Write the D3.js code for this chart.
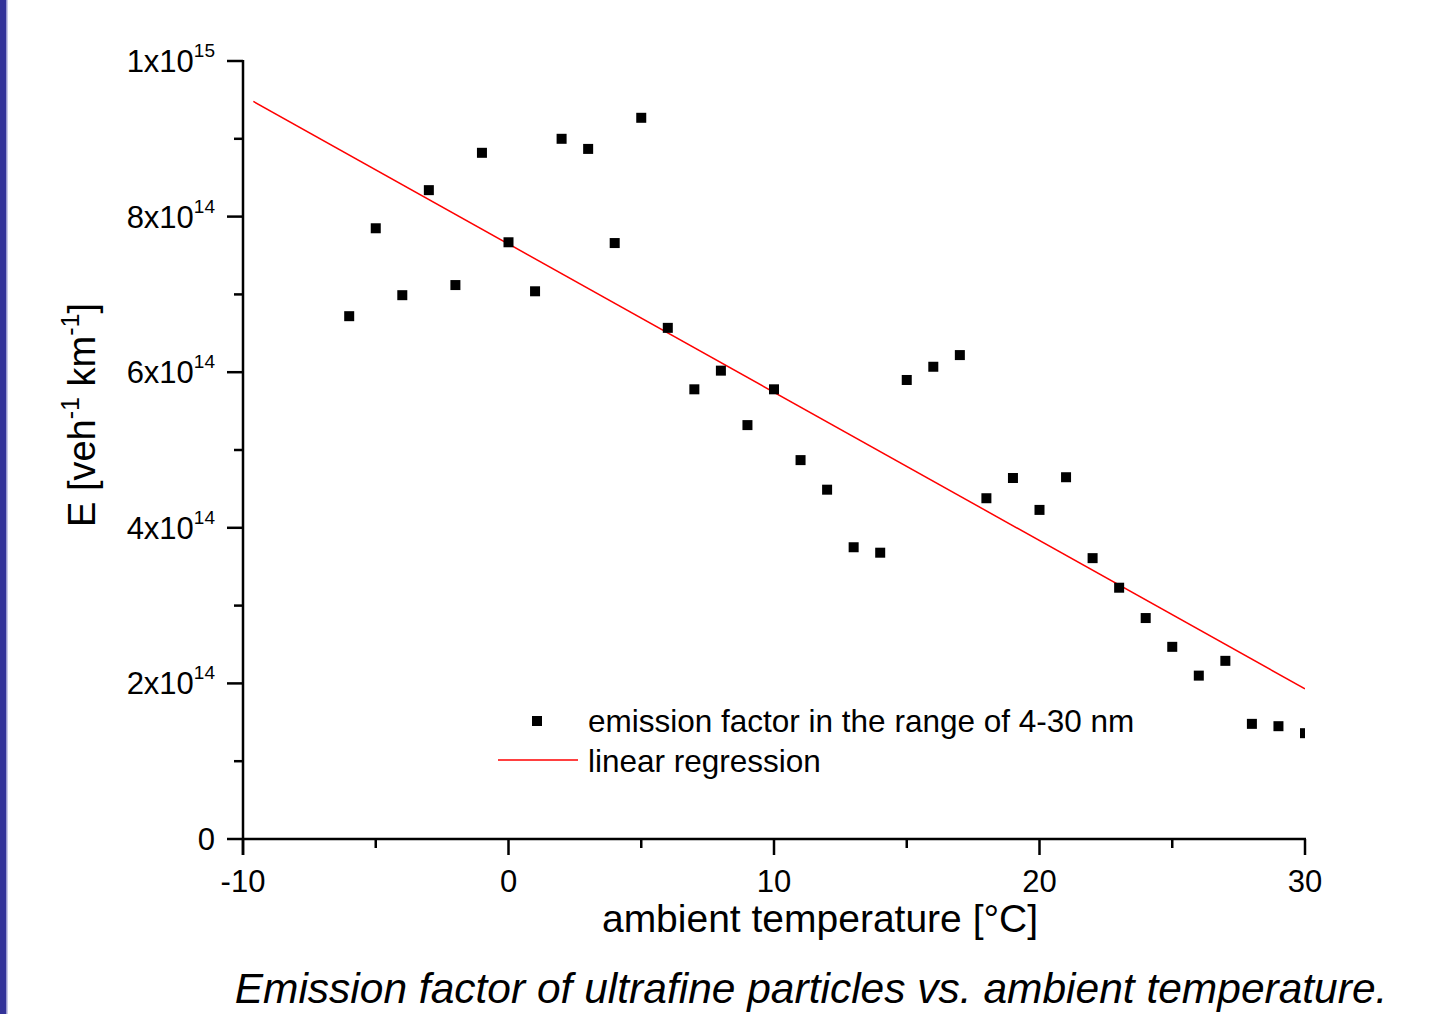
<!DOCTYPE html>
<html>
<head>
<meta charset="utf-8">
<script src="https://cdn.jsdelivr.net/npm/d3@7"></script>
<style>
  body { margin: 0; background: #fff; }
  text { font-family: "Liberation Sans", Arial, sans-serif; fill: #000; }
</style>
</head>
<body>
<svg id="chart" width="1444" height="1014"></svg>
<script>
// temperature (°C) and emission factor (x1e14 veh-1 km-1)
const temps = [-6, -5, -4, -3, -2, -1, 0, 1, 2, 3, 4, 5, 6, 7, 8, 9, 10, 11, 12, 13, 14,
               15, 16, 17, 18, 19, 20, 21, 22, 23, 24, 25, 26, 27, 28, 29, 30];
const emission = [6.72, 7.85, 6.99, 8.34, 7.12, 8.82, 7.67, 7.04, 9.00, 8.87, 7.66, 9.27, 6.57,
                  5.78, 6.02, 5.32, 5.78, 4.87, 4.49, 3.75, 3.68, 5.90, 6.07, 6.22, 4.38, 4.64,
                  4.23, 4.65, 3.61, 3.23, 2.84, 2.47, 2.10, 2.29, 1.48, 1.45, 1.36];
// regression line ends
const fitX = [-9.61, 30];
const fitY = [9.48, 1.93];

const xMajor = [-10, 0, 10, 20, 30];
const xMinor = [-5, 5, 15, 25];
const yMajor = [0, 2, 4, 6, 8, 10];
const yMinor = [1, 3, 5, 7, 9];
const yLabels = ["0", "2x10|14", "4x10|14", "6x10|14", "8x10|14", "1x10|15"];

let svg = d3.select("#chart");

// purple slide edge
svg.append("rect").attr("x", 0).attr("y", 0).attr("width", 6).attr("height", 1014).attr("fill", "#333399");
svg.append("rect").attr("x", 6).attr("y", 0).attr("width", 1.5).attr("height", 1014).attr("fill", "#9a9ad0");

let m = { left: 243, right: 1305, top: 61, bottom: 839 };

let x = d3.scaleLinear().domain([-10, 30]).range([m.left, m.right]);
let y = d3.scaleLinear().domain([0, 10]).range([m.bottom, m.top]);

svg.append("clipPath").attr("id", "plotClip")
    .append("rect")
    .attr("x", m.left).attr("y", m.top - 10)
    .attr("width", m.right - m.left).attr("height", m.bottom - m.top + 10);

let plot = svg.append("g").attr("clip-path", "url(#plotClip)");

// regression line
plot.append("line")
    .attr("x1", x(fitX[0])).attr("y1", y(fitY[0]))
    .attr("x2", x(fitX[1])).attr("y2", y(fitY[1]))
    .attr("stroke", "#ff0000").attr("stroke-width", 1.5);

// data squares
plot.selectAll("rect.pt")
    .data(temps)
    .enter().append("rect")
    .attr("class", "pt")
    .attr("x", (d) => x(d) - 5)
    .attr("y", (d, i) => y(emission[i]) - 5)
    .attr("width", 10).attr("height", 10)
    .attr("fill", "#000");

// axes lines
let axisG = svg.append("g").attr("stroke", "#000").attr("stroke-width", 2.5);
axisG.append("line").attr("x1", m.left).attr("x2", m.right + 1).attr("y1", m.bottom).attr("y2", m.bottom);
axisG.append("line").attr("x1", m.left).attr("x2", m.left).attr("y1", m.top - 1).attr("y2", m.bottom + 16);

xMajor.forEach(d => {
    axisG.append("line").attr("x1", x(d)).attr("x2", x(d)).attr("y1", m.bottom).attr("y2", m.bottom + 16);
});
xMinor.forEach(d => {
    axisG.append("line").attr("x1", x(d)).attr("x2", x(d)).attr("y1", m.bottom).attr("y2", m.bottom + 9);
});
yMajor.forEach(d => {
    axisG.append("line").attr("x1", m.left - 16).attr("x2", m.left).attr("y1", y(d)).attr("y2", y(d));
});
yMinor.forEach(d => {
    axisG.append("line").attr("x1", m.left - 9).attr("x2", m.left).attr("y1", y(d)).attr("y2", y(d));
});

// x tick labels
xMajor.forEach(d => {
    svg.append("text")
        .attr("x", x(d)).attr("y", m.bottom + 53)
        .attr("text-anchor", "middle")
        .style("font-size", "31px")
        .text(d);
});

// y tick labels with superscripts
yMajor.forEach((d, i) => {
    let parts = yLabels[i].split("|");
    let t = svg.append("text")
        .attr("x", m.left - 28).attr("y", y(d) + 11)
        .attr("text-anchor", "end")
        .style("font-size", "31px");
    t.append("tspan").text(parts[0]);
    if (parts[1]) {
        t.append("tspan").attr("dy", -15).style("font-size", "19px").text(parts[1]);
    }
});

// axis titles
svg.append("text")
    .attr("x", 820).attr("y", 932)
    .attr("text-anchor", "middle")
    .style("font-size", "39px")
    .text("ambient temperature [°C]");

let yt = svg.append("text")
    .attr("transform", "translate(95,415) rotate(-90)")
    .attr("text-anchor", "middle")
    .style("font-size", "38px");
yt.append("tspan").text("E [veh");
yt.append("tspan").attr("dy", -16).style("font-size", "25px").text("-1");
yt.append("tspan").attr("dy", 16).text(" km");
yt.append("tspan").attr("dy", -16).style("font-size", "25px").text("-1");
yt.append("tspan").attr("dy", 16).text("]");

// legend
svg.append("rect").attr("x", 532).attr("y", 716).attr("width", 10).attr("height", 10).attr("fill", "#000");
svg.append("text").attr("x", 588).attr("y", 732).style("font-size", "31.5px")
    .text("emission factor in the range of 4-30 nm");
svg.append("line").attr("x1", 498).attr("x2", 578).attr("y1", 760).attr("y2", 760)
    .attr("stroke", "#ff0000").attr("stroke-width", 1.5);
svg.append("text").attr("x", 588).attr("y", 772).style("font-size", "31.5px")
    .text("linear regression");

// caption
svg.append("text")
    .attr("x", 811).attr("y", 1003)
    .attr("text-anchor", "middle")
    .style("font-size", "42.5px")
    .style("font-style", "italic")
    .text("Emission factor of ultrafine particles vs. ambient temperature.");
</script>
</body>
</html>
